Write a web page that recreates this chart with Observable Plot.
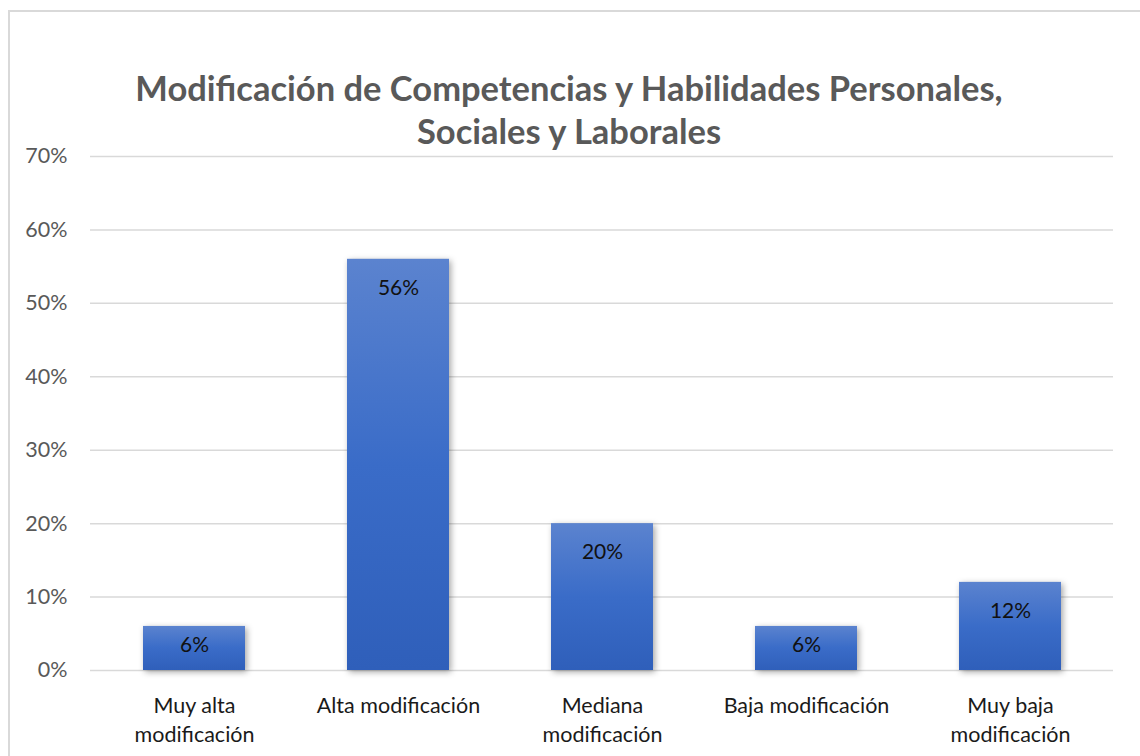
<!DOCTYPE html>
<html>
<head>
<meta charset="utf-8">
<script src="https://cdn.jsdelivr.net/npm/d3@7"></script>
<script src="https://cdn.jsdelivr.net/npm/@observablehq/plot@0.6"></script>
<style>
  html, body { margin: 0; padding: 0; background: #fff; }
  body { width: 1140px; height: 756px; overflow: hidden; position: relative; font-family: Lato, "Open Sans", sans-serif; }
  #frame { position: absolute; left: 8px; top: 10px; width: 1200px; height: 800px; border: 2px solid #d9d9d9; box-sizing: border-box; }
  #chart { position: absolute; left: 0; top: 0; }
</style>
</head>
<body>
<div id="frame"></div>
<div id="chart"></div>
<script>
const categories = ["Muy alta\nmodificación", "Alta modificación", "Mediana\nmodificación", "Baja modificación", "Muy baja\nmodificación"];
const values = [6, 56, 20, 6, 12];
const yTicks = [0, 10, 20, 30, 40, 50, 60, 70];
const titleLine1 = "Modificación de Competencias y Habilidades Personales,";
const titleLine2 = "Sociales y Laborales";

const data = categories.map((c, i) => ({category: c, value: values[i]}));

const chart = Plot.plot({
  width: 1140,
  height: 756,
  marginTop: 156,
  marginBottom: 86,
  marginLeft: 90,
  marginRight: 27,
  style: {fontFamily: "Lato, 'Open Sans', sans-serif", background: "transparent"},
  x: {domain: categories, paddingInner: 0.5, paddingOuter: 0.25, label: null},
  y: {domain: [0, 70], label: null},
  marks: [
    Plot.gridY(yTicks, {stroke: "#d9d9d9", strokeOpacity: 1, strokeWidth: 1.5}),
    Plot.barY(data, {x: "category", y: "value", fill: "url(#barGrad)"}),
    Plot.text(data.filter(d => d.value >= 10), {x: "category", y: "value", text: d => d.value + "%", dy: 29, fontSize: 21, fill: "#111"}),
    Plot.text(data.filter(d => d.value < 10), {x: "category", y: "value", text: d => d.value + "%", dy: 19, fontSize: 21, fill: "#111"}),
    Plot.axisY({ticks: yTicks, tickFormat: d => d + "%", tickSize: 0, tickPadding: 23, fontSize: 21.5, color: "#595959", label: null}),
    Plot.axisX({tickSize: 0, tickPadding: 21, fontSize: 21.5, lineHeight: 1.38, color: "#1a1a1a", label: null}),
    Plot.text([titleLine1], {frameAnchor: "top", dx: -33, dy: -80, fontSize: 34.5, fontWeight: "bold", fill: "#595959"}),
    Plot.text([titleLine2], {frameAnchor: "top", dx: -33, dy: -37, fontSize: 34.5, fontWeight: "bold", fill: "#595959"})
  ]
});

const svg = d3.select(chart);
const defs = svg.insert("defs", ":first-child");
const grad = defs.append("linearGradient").attr("id", "barGrad").attr("x1", 0).attr("y1", 0).attr("x2", 0).attr("y2", 1);
grad.append("stop").attr("offset", "0%").attr("stop-color", "#5b83cf");
grad.append("stop").attr("offset", "50%").attr("stop-color", "#3a6cc8");
grad.append("stop").attr("offset", "100%").attr("stop-color", "#2f5fba");
svg.selectAll("g[aria-label='bar']").style("filter", "drop-shadow(2px 2px 3px rgba(0,0,0,0.35))");

document.getElementById("chart").appendChild(chart);
</script>
</body>
</html>
